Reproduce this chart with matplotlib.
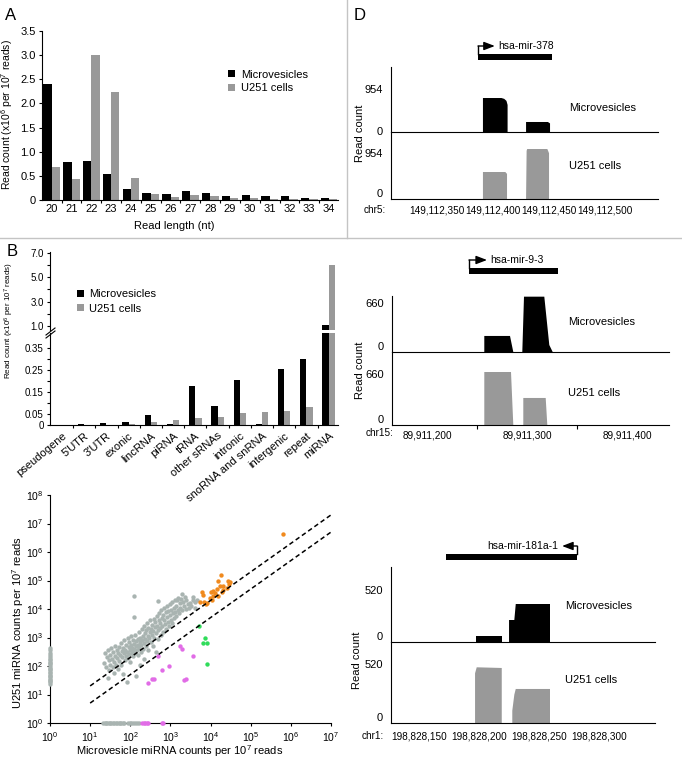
import numpy as np
import matplotlib
matplotlib.use("Agg")
import matplotlib.pyplot as plt
from matplotlib.lines import Line2D
from matplotlib.ticker import FuncFormatter, NullLocator, FixedLocator

plt.rcParams['font.family'] = ['Liberation Sans', 'DejaVu Sans']
plt.rcParams['mathtext.fontset'] = 'custom'
plt.rcParams['mathtext.rm'] = 'Liberation Sans'
plt.rcParams['mathtext.it'] = 'Liberation Sans:italic'
plt.rcParams['mathtext.bf'] = 'Liberation Sans:bold'
plt.rcParams['axes.linewidth'] = 0.8

# ---------------- data ----------------
# A: read length distribution (x10^6 per 10^7 reads)
read_len = [20, 21, 22, 23, 24, 25, 26, 27, 28, 29, 30, 31, 32, 33, 34]
mv_len = [2.41, 0.78, 0.81, 0.54, 0.22, 0.14, 0.12, 0.18, 0.15, 0.08, 0.10, 0.09, 0.09, 0.05, 0.05]
u251_len = [0.69, 0.43, 3.00, 2.23, 0.45, 0.12, 0.07, 0.11, 0.08, 0.04, 0.04, 0.03, 0.03, 0.03, 0.02]

# B: read counts per RNA class
rna_types = ['pseudogene', "5'UTR", "3'UTR", 'exonic', 'lincRNA', 'piRNA', 'tRNA',
             'other sRNAs', 'intronic', 'snoRNA and snRNA', 'intergenic', 'repeat', 'miRNA']
mv_type = [0.002, 0.003, 0.010, 0.014, 0.045, 0.003, 0.180, 0.087, 0.205, 0.004, 0.255, 0.300, 1.08]
u251_type = [0.002, 0.002, 0.002, 0.003, 0.015, 0.022, 0.030, 0.035, 0.053, 0.061, 0.064, 0.080, 6.00]

# C: miRNA counts as log10(count)
gray_pts = [
    (1.35, 2.10), (1.38, 2.45), (1.40, 1.95), (1.42, 2.30), (1.44, 1.58), (1.45, 2.55), (1.47, 2.20),
    (1.48, 1.85), (1.50, 2.40), (1.50, 2.05), (1.53, 2.62), (1.55, 2.25), (1.56, 1.98), (1.58, 2.48),
    (1.60, 2.15), (1.60, 1.75), (1.62, 2.35), (1.63, 2.70), (1.65, 2.05), (1.66, 2.55), (1.68, 2.28),
    (1.70, 1.90), (1.70, 2.45), (1.72, 2.65), (1.73, 2.18), (1.75, 2.38), (1.76, 2.80), (1.78, 2.05),
    (1.79, 2.52), (1.80, 2.30), (1.82, 1.72), (1.82, 2.62), (1.84, 2.45), (1.85, 2.90), (1.86, 2.20),
    (1.88, 2.55), (1.89, 2.35), (1.90, 2.75), (1.92, 1.44), (1.93, 2.50), (1.94, 2.98), (1.95, 2.28),
    (1.96, 2.65), (1.97, 2.42), (1.98, 2.85), (2.00, 2.55), (2.00, 2.15), (2.02, 2.72), (2.03, 3.05),
    (2.04, 2.45), (2.05, 2.62), (2.06, 2.35), (2.07, 2.90), (2.08, 2.52), (2.09, 2.78), (2.10, 2.60),
    (2.12, 2.45), (2.12, 3.10), (2.14, 2.70), (2.15, 1.64), (2.15, 2.88), (2.16, 2.55), (2.18, 2.95),
    (2.19, 2.40), (2.20, 2.75), (2.21, 3.20), (2.22, 2.62), (2.23, 2.05), (2.24, 2.85), (2.25, 3.00),
    (2.26, 2.50), (2.27, 2.72), (2.28, 3.30), (2.29, 2.90), (2.31, 2.60), (2.32, 3.05), (2.33, 2.80),
    (2.34, 3.40), (2.35, 2.25), (2.36, 2.95), (2.37, 3.15), (2.38, 2.70), (2.40, 3.25), (2.41, 2.88),
    (2.42, 3.50), (2.43, 3.05), (2.44, 2.55), (2.45, 3.35), (2.46, 2.98), (2.48, 3.18), (2.49, 3.60),
    (2.51, 2.85), (2.52, 3.30), (2.53, 3.08), (2.55, 3.45), (2.56, 2.70), (2.57, 3.22), (2.58, 3.65),
    (2.60, 3.00), (2.61, 3.38), (2.62, 3.55), (2.63, 2.50), (2.64, 3.15), (2.66, 3.75), (2.67, 3.42),
    (2.68, 3.28), (2.69, 2.95), (2.71, 3.60), (2.72, 3.85), (2.73, 3.35), (2.75, 3.50), (2.76, 3.10),
    (2.77, 3.95), (2.78, 3.70), (2.80, 3.42), (2.81, 3.80), (2.82, 3.20), (2.84, 3.62), (2.85, 4.05),
    (2.86, 3.48), (2.88, 3.88), (2.89, 3.30), (2.91, 3.72), (2.92, 4.10), (2.94, 3.55), (2.95, 3.92),
    (2.96, 3.40), (2.98, 3.80), (3.00, 4.18), (3.01, 3.62), (3.02, 3.98), (3.04, 3.50), (3.05, 4.25),
    (3.06, 3.85), (3.08, 3.70), (3.09, 4.05), (3.11, 3.90), (3.12, 4.32), (3.14, 3.75), (3.15, 4.12),
    (3.16, 4.32), (3.18, 3.98), (3.20, 4.40), (3.21, 3.85), (3.23, 4.20), (3.25, 4.05), (3.27, 4.35),
    (3.28, 4.53), (3.29, 3.95), (3.32, 4.25), (3.34, 4.10), (3.36, 4.42), (3.38, 4.00), (3.40, 4.30),
    (3.43, 4.18), (3.46, 4.05), (3.49, 4.21), (3.52, 4.12), (3.55, 4.30), (3.57, 4.42), (3.60, 4.05),
    (3.61, 4.23), (3.65, 4.32), (2.10, 4.46), (2.10, 3.72), (2.70, 4.28)]
# only in U251 (microvesicle count 0 -> drawn at 10^0)
gray_u251_only = [1.38, 1.43, 1.46, 1.51, 1.55, 1.61, 1.64, 1.70, 1.76, 1.79, 1.85, 1.91, 1.94,
                  2.00, 2.06, 2.09, 2.15, 2.21, 2.26, 2.32, 2.40, 2.47, 2.55, 2.62]
# only in microvesicles (U251 count 0 -> drawn at 10^0)
gray_mv_only = [1.33, 1.36, 1.40, 1.43, 1.47, 1.50, 1.53, 1.57, 1.60, 1.64, 1.67, 1.71, 1.74,
                1.78, 1.81, 1.84, 1.95, 1.99, 2.03, 2.08, 2.12, 2.17, 2.22]
pink_mv_only = [2.29, 2.33, 2.37, 2.41, 2.45, 2.78, 2.82]
orange_pts = [
    (5.81, 6.64), (4.26, 5.20), (4.19, 5.00), (4.44, 4.97), (4.49, 4.93), (4.24, 4.79), (4.32, 4.82),
    (4.40, 4.73), (4.07, 4.64), (4.15, 4.70), (4.28, 4.61), (4.01, 4.58), (4.11, 4.56), (3.78, 4.59),
    (3.80, 4.50), (4.07, 4.44), (4.19, 4.44), (3.99, 4.38), (3.74, 4.24), (3.84, 4.23), (3.92, 4.21),
    (3.89, 4.18), (4.03, 4.32), (4.32, 4.67), (4.47, 4.88)]
green_pts = [(3.72, 3.39), (3.86, 2.98), (3.80, 2.80), (3.92, 2.80), (3.92, 2.07)]
pink_pts = [(3.24, 2.71), (3.28, 2.59), (3.55, 2.34), (2.70, 2.34), (2.97, 1.99), (2.78, 1.85),
            (2.53, 1.55), (2.59, 1.54), (2.43, 1.40), (3.34, 1.50), (3.38, 1.54)]

# D: read coverage at three loci (x: bp offset from base, y: read count)
mir378_base = 149112000
mir378_gene = (386.6, 452.7)
mir378_mv_x = [[391, 391, 407.5, 410, 412, 413, 413], [429.5, 429.5, 449, 450.9, 450.9]]
mir378_mv_y = [[0, 754, 754, 735, 690, 600, 0], [0, 222, 222, 190, 0]]
mir378_u_x = [[391, 391, 411, 412.5, 412.5], [429.5, 430, 430.5, 448.5, 450, 450]]
mir378_u_y = [[0, 560, 560, 520, 0], [0, 1000, 1037, 1037, 950, 0]]

mir93_base = 89911000
mir93_gene = (242, 331)
mir93_mv_x = [[257.3, 257.3, 283, 286.3], [295.3, 297, 317.3, 322.3, 325.7]]
mir93_mv_y = [[0, 216, 216, 0], [0, 745, 745, 94, 0]]
mir93_u_x = [[257.3, 257.3, 284, 286.3], [296.3, 296.3, 318.7, 320.3]]
mir93_u_y = [[0, 686, 686, 0], [0, 350, 350, 0]]

mir181_base = 198828000
mir181_gene = (172.4, 281.9)
mir181_mv_x = [[197.5, 197.5, 219.2, 219.2], [225.1, 225.1, 229.5, 230.7, 259.3, 259.3]]
mir181_mv_y = [[0, 60, 60, 0], [0, 220, 220, 380, 380, 0]]
mir181_u_x = [[196.7, 196.7, 198.1, 219.0, 219.0], [227.8, 227.8, 229.5, 230.7, 259.3, 259.3]]
mir181_u_y = [[0, 438, 491, 485, 0], [0, 108, 250, 300, 300, 0]]

BLACK = '#000000'
GREY = '#999999'
SC_GREY = '#a9b4b1'
SC_ORANGE = '#f08a1e'
SC_GREEN = '#2fdc5a'
SC_PINK = '#e16ce6'

W, H = 682, 765
fig = plt.figure(figsize=(W / 100, H / 100), dpi=100)


def rect(l, t, r, b):
    return [l / W, 1 - b / H, (r - l) / W, (b - t) / H]


def ftext(x, y, s, **kw):
    fig.text(x / W, 1 - y / H, s, **kw)


def fline(xs, ys, **kw):
    fig.add_artist(Line2D([v / W for v in xs], [1 - v / H for v in ys],
                          transform=fig.transFigure, **kw))


# panel dividers
fline([347, 347], [0, 238], color='#c4c4c4', lw=1)
fline([0, W], [238, 238], color='#c4c4c4', lw=1)

# ---------------- A ----------------
axA = fig.add_axes(rect(42, 31, 338, 200))
xa = np.array(read_len)
axA.bar(xa - 0.21, mv_len, 0.42, color=BLACK, label='Microvesicles')
axA.bar(xa + 0.21, u251_len, 0.42, color=GREY, label='U251 cells')
axA.set_xlim(19.51, 34.45)
axA.set_ylim(0, 3.5)
axA.set_yticks([0, 0.5, 1.0, 1.5, 2.0, 2.5, 3.0, 3.5])
axA.set_yticklabels(['0', '0.5', '1.0', '1.5', '2.0', '2.5', '3.0', '3.5'])
axA.set_xticks(read_len)
axA.xaxis.set_minor_locator(FixedLocator(xa[:-1] + 0.5))
axA.tick_params(axis='x', which='major', length=0, pad=3, labelsize=8)
axA.tick_params(axis='x', which='minor', length=2.5, width=0.8)
axA.tick_params(axis='y', length=2.5, width=0.8, pad=2, labelsize=8)
for s in ('top', 'right'):
    axA.spines[s].set_visible(False)
axA.legend(loc='upper left', bbox_to_anchor=(0.63, 0.77), frameon=False, fontsize=8,
           handlelength=0.6, handleheight=0.6, handletextpad=0.5, labelspacing=0.3,
           borderaxespad=0, borderpad=0)
ftext(7, 115, r'Read count (x10$^{6}$ per 10$^{7}$ reads)', rotation=90,
      ha='center', va='center', fontsize=7.5)
ftext(174, 226, 'Read length (nt)', ha='center', va='center', fontsize=8)
ftext(11, 15, 'A', ha='center', va='center', fontsize=12)

# ---------------- B ----------------
axBu = fig.add_axes(rect(50, 252, 338, 330))
axBl = fig.add_axes(rect(50, 333, 338, 425))
xb = np.arange(len(rna_types))
for ax, lab in ((axBu, True), (axBl, False)):
    ax.set_facecolor('none')
    ax.bar(xb - 0.14, mv_type, 0.28, color=BLACK, label='Microvesicles' if lab else None)
    ax.bar(xb + 0.14, u251_type, 0.28, color=GREY, label='U251 cells' if lab else None)
    ax.set_xlim(-0.54, 12.42)
    ax.spines['top'].set_visible(False)
    ax.spines['right'].set_visible(False)
    ax.tick_params(axis='y', which='both', length=2.5, width=0.8, pad=2, labelsize=7)
axBu.set_ylim(0.67, 7.08)
axBu.spines['bottom'].set_visible(False)
axBu.set_xticks([])
axBu.set_yticks([1, 3, 5, 7])
axBu.set_yticklabels(['1.0', '3.0', '5.0', '7.0'])
axBu.yaxis.set_minor_locator(FixedLocator([2, 4, 6]))
axBl.set_ylim(0, 0.42)
axBl.set_yticks([0, 0.05, 0.15, 0.25, 0.35])
axBl.set_yticklabels(['0', '0.05', '0.15', '0.25', '0.35'])
axBl.yaxis.set_minor_locator(FixedLocator([0.10, 0.20, 0.30]))
axBl.set_xticks(xb)
axBl.set_xticklabels(rna_types, rotation=40, ha='right', va='top', rotation_mode='anchor',
                     fontsize=8)
axBl.xaxis.set_minor_locator(FixedLocator(xb[:-1] + 0.5))
axBl.tick_params(axis='x', which='major', length=0, pad=4)
axBl.tick_params(axis='x', which='minor', length=2.5, width=0.8)
axBu.legend(loc='upper left', bbox_to_anchor=(0.094, 0.52), frameon=False, fontsize=8,
            handlelength=0.6, handleheight=0.6, handletextpad=0.5, labelspacing=0.4,
            borderaxespad=0, borderpad=0)
fline([46, 55], [335, 328], color='k', lw=0.8)
fline([46, 55], [338, 331], color='k', lw=0.8)
ftext(9, 321, r'Read count (x10$^{6}$ per 10$^{7}$ reads)', rotation=90,
      ha='center', va='center', fontsize=5.8)
ftext(12, 251, 'B', ha='center', va='center', fontsize=12)

# ---------------- C ----------------
axC = fig.add_axes(rect(50, 495, 331, 723))
axC.set_facecolor('none')
axC.set_xscale('log')
axC.set_yscale('log')
axC.set_xlim(1, 1e7)
axC.set_ylim(1, 1e8)
guide_x = np.array([1e1, 1e7])
axC.plot(guide_x, 2 * guide_x, ls=(0, (3, 2)), color='k', lw=1.1, zorder=4)
axC.plot(guide_x, 0.5 * guide_x, ls=(0, (3, 2)), color='k', lw=1.1, zorder=4)


def pts(lst):
    a = np.array(lst)
    return 10 ** a[:, 0], 10 ** a[:, 1]


sc_kw = dict(s=10, linewidths=0, clip_on=False, zorder=3)
gx, gy = pts(gray_pts)
axC.scatter(gx, gy, color=SC_GREY, **sc_kw)
axC.scatter(np.ones(len(gray_u251_only)), 10 ** np.array(gray_u251_only), color=SC_GREY, **sc_kw)
axC.scatter(10 ** np.array(gray_mv_only), np.ones(len(gray_mv_only)), color=SC_GREY, **sc_kw)
axC.scatter(10 ** np.array(pink_mv_only), np.ones(len(pink_mv_only)), color=SC_PINK, **sc_kw)
ox, oy = pts(orange_pts)
axC.scatter(ox, oy, color=SC_ORANGE, **sc_kw)
grx, gry = pts(green_pts)
axC.scatter(grx, gry, color=SC_GREEN, **sc_kw)
px_, py_ = pts(pink_pts)
axC.scatter(px_, py_, color=SC_PINK, **sc_kw)
axC.xaxis.set_major_locator(FixedLocator([10.0 ** k for k in range(8)]))
axC.yaxis.set_major_locator(FixedLocator([10.0 ** k for k in range(9)]))
axC.xaxis.set_minor_locator(NullLocator())
axC.yaxis.set_minor_locator(NullLocator())
axC.tick_params(length=2.5, width=0.8, labelsize=7.5, pad=3)
axC.tick_params(axis='y', pad=2)
for s in ('top', 'right'):
    axC.spines[s].set_visible(False)
ftext(180, 751, r'Microvesicle miRNA counts per 10$^{7}$ reads', ha='center', va='center', fontsize=8)
ftext(18, 623, r'U251 miRNA counts per 10$^{7}$ reads', rotation=90, ha='center', va='center',
      fontsize=8)

# ---------------- D ----------------
loci = [
    dict(name='hsa-mir-378', base=mir378_base, gene=mir378_gene, strand='+',
         mv_x=mir378_mv_x, mv_y=mir378_mv_y, u_x=mir378_u_x, u_y=mir378_u_y,
         box=(391, 67, 132, 199, 658), gene_box=(40, 62), xlim=(308.9, 547.3),
         ymax=(1442, 1390), tick_max=954, marks=[350, 400, 450, 500], labels=[350, 400, 450, 500],
         chrom='chr5:', chrom_xy=(386, 210), pad=2.5, arrow=15, zero_va=('center', 'bottom'),
         mv_txt=(569, 108), u_txt=(569, 166), rc_xy=(360, 133)),
    dict(name='hsa-mir-9-3', base=mir93_base, gene=mir93_gene, strand='+',
         mv_x=mir93_mv_x, mv_y=mir93_mv_y, u_x=mir93_u_x, u_y=mir93_u_y,
         box=(392, 296, 352, 425, 669), gene_box=(254, 276), xlim=(165, 442),
         ymax=(754, 945), tick_max=660, marks=[250, 300, 350], labels=[200, 300, 400],
         chrom='chr15:', chrom_xy=(393, 433), pad=2.0, arrow=18, zero_va=('bottom', 'bottom'),
         mv_txt=(568, 322), u_txt=(568, 393), rc_xy=(360, 370)),
    dict(name='hsa-mir-181a-1', base=mir181_base, gene=mir181_gene, strand='-',
         mv_x=mir181_mv_x, mv_y=mir181_mv_y, u_x=mir181_u_x, u_y=mir181_u_y,
         box=(391, 567, 642, 723, 655), gene_box=(540, 562), xlim=(126.5, 347),
         ymax=(750, 714), tick_max=520, marks=[150, 200, 250, 300], labels=[150, 200, 250, 300],
         chrom='chr1:', chrom_xy=(384, 736), pad=4.0, arrow=12.5, zero_va=('bottom', 'bottom'),
         mv_txt=(565, 606), u_txt=(565, 680), rc_xy=(357, 660)),
]

for L in loci:
    left, top, mid, bot, right = L['box']
    base = L['base']
    gax = fig.add_axes(rect(left, L['gene_box'][0], right, L['gene_box'][1]))
    gax.set_xlim(*L['xlim'])
    gax.set_ylim(0, 22)
    gax.axis('off')
    g0, g1 = L['gene']
    gax.fill_between([g0, g1], 2, 8, color='k', lw=0)
    if L['strand'] == '+':
        start, tip, tx, ha = g0, g0 + L['arrow'], g0 + L['arrow'] + 3, 'left'
    else:
        start, tip, tx, ha = g1, g1 - L['arrow'], g1 - L['arrow'] - 3, 'right'
    gax.plot([start, start], [8, 16], color='k', lw=1)
    gax.annotate('', xy=(tip, 16), xytext=(start, 16),
                 arrowprops=dict(arrowstyle='-|>,head_length=0.65,head_width=0.25',
                                 color='k', lw=1, shrinkA=0, shrinkB=0))
    gax.text(tx, 16, L['name'], ha=ha, va='center', fontsize=7.5)

    lax = fig.add_axes(rect(left, mid, right, bot))
    uax = fig.add_axes(rect(left, top, right, mid))
    tracks = ((uax, L['mv_x'], L['mv_y'], BLACK, L['ymax'][0], L['zero_va'][0]),
              (lax, L['u_x'], L['u_y'], GREY, L['ymax'][1], L['zero_va'][1]))
    for ax, xs_l, ys_l, col, ym, zva in tracks:
        ax.set_facecolor('none')
        for xs, ys in zip(xs_l, ys_l):
            ax.fill(xs, ys, color=col, lw=0)
        ax.set_xlim(*L['xlim'])
        ax.set_ylim(0, ym)
        ax.spines['top'].set_visible(False)
        ax.spines['right'].set_visible(False)
        ax.set_yticks([0, L['tick_max']])
        ax.set_yticklabels(['0', str(L['tick_max'])])
        ax.tick_params(axis='y', length=0, pad=6, labelsize=8)
        ax.get_yticklabels()[0].set_va(zva)
    uax.set_xticks([])
    lax.set_xticks(L['labels'])
    lax.xaxis.set_major_formatter(FuncFormatter(lambda v, p, b=base: f"{int(round(b + v)):,}"))
    lax.xaxis.set_minor_locator(FixedLocator(L['marks']))
    lax.tick_params(axis='x', which='major', length=0, pad=L['pad'] + 2.2, labelsize=7.2)
    lax.tick_params(axis='x', which='minor', length=3, width=0.8)
    ftext(L['chrom_xy'][0], L['chrom_xy'][1], L['chrom'], ha='right', va='center', fontsize=7.2)
    ftext(L['mv_txt'][0], L['mv_txt'][1], 'Microvesicles', ha='left', va='center', fontsize=8)
    ftext(L['u_txt'][0], L['u_txt'][1], 'U251 cells', ha='left', va='center', fontsize=8)
    ftext(L['rc_xy'][0], L['rc_xy'][1], 'Read count', rotation=90, ha='center', va='center',
          fontsize=8)

ftext(360, 15, 'D', ha='center', va='center', fontsize=12)

fig.savefig('out.png', dpi=100)
